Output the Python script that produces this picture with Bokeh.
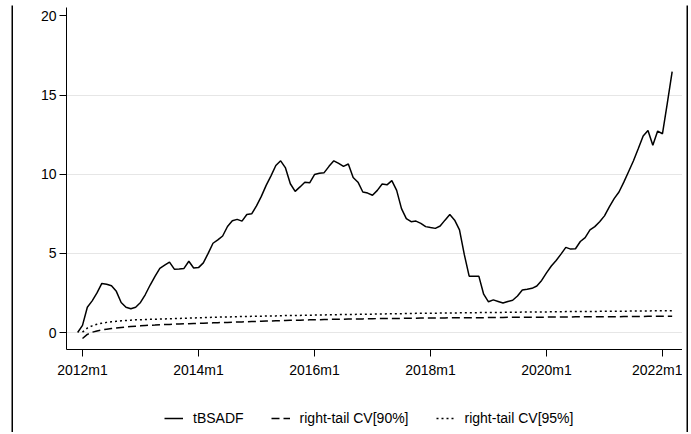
from bokeh.plotting import figure
from bokeh.layouts import row, column
from bokeh.models import (Range1d, FixedTicker, Legend, LegendItem, ColumnDataSource,
                          BoxAnnotation)
from bokeh.embed import file_html
from bokeh.resources import INLINE

# ---------------- data ----------------
# monthly periods 2011m12 .. 2022m3
periods = ["2011m12"] + [f"{y}m{m}" for y in range(2012, 2023) for m in range(1, 13)]
periods = periods[:periods.index("2022m3") + 1]

tbsadf = [
    0.00,                                                                   # 2011m12
    0.45, 1.60, 2.00, 2.50, 3.10, 3.05, 2.95, 2.60, 1.90, 1.60, 1.50, 1.60,  # 2012
    1.90, 2.40, 3.00, 3.55, 4.05, 4.25, 4.45, 4.00, 4.02, 4.05, 4.50, 4.08,  # 2013
    4.10, 4.40, 5.00, 5.64, 5.85, 6.10, 6.70, 7.06, 7.15, 7.04, 7.46, 7.50,  # 2014
    8.00, 8.60, 9.30, 9.90, 10.55, 10.85, 10.40, 9.40, 8.92, 9.20, 9.50, 9.46,  # 2015
    9.98, 10.06, 10.10, 10.50, 10.85, 10.69, 10.50, 10.65, 9.80, 9.50, 8.88, 8.81,  # 2016
    8.67, 8.98, 9.38, 9.33, 9.60, 8.98, 7.83, 7.20, 7.00, 7.04, 6.90, 6.69,  # 2017
    6.63, 6.58, 6.73, 7.10, 7.45, 7.10, 6.48, 4.92, 3.56, 3.56, 3.56, 2.42,  # 2018
    1.94, 2.06, 1.96, 1.86, 1.96, 2.04, 2.31, 2.69, 2.73, 2.79, 2.94, 3.29,  # 2019
    3.77, 4.20, 4.55, 4.95, 5.38, 5.27, 5.29, 5.75, 6.00, 6.48, 6.69, 7.00,  # 2020
    7.37, 7.94, 8.46, 8.88, 9.50, 10.17, 10.85, 11.63, 12.42, 12.77, 11.83, 12.73,  # 2021
    12.56, 14.50, 16.48,                                                    # 2022
]

nan = float("nan")
cv90 = [
    nan,
    -0.38, -0.12, 0.02, 0.10, 0.16, 0.21, 0.25, 0.29, 0.32, 0.35, 0.38, 0.40,
    0.42, 0.44, 0.46, 0.47, 0.49, 0.50, 0.51, 0.53, 0.54, 0.55, 0.56, 0.57,
    0.58, 0.59, 0.60, 0.61, 0.62, 0.63, 0.64, 0.65, 0.66, 0.67, 0.68, 0.69,
    0.70, 0.71, 0.72, 0.73, 0.74, 0.75, 0.76, 0.77, 0.78, 0.78, 0.79, 0.80,
    0.81, 0.81, 0.82, 0.83, 0.83, 0.84, 0.84, 0.85, 0.85, 0.86, 0.86, 0.87,
    0.87, 0.88, 0.88, 0.88, 0.89, 0.89, 0.89, 0.90, 0.90, 0.90, 0.91, 0.91,
    0.91, 0.92, 0.92, 0.92, 0.93, 0.93, 0.93, 0.93, 0.94, 0.94, 0.94, 0.94,
    0.95, 0.95, 0.95, 0.95, 0.96, 0.96, 0.96, 0.96, 0.97, 0.97, 0.97, 0.97,
    0.97, 0.98, 0.98, 0.98, 0.98, 0.98, 0.99, 0.99, 0.99, 0.99, 0.99, 1.00,
    1.00, 1.00, 1.00, 1.00, 1.01, 1.01, 1.01, 1.01, 1.01, 1.02, 1.02, 1.02,
    1.02, 1.02, 1.02,
]

cv95 = [
    nan,
    0.02, 0.28, 0.42, 0.52, 0.59, 0.64, 0.68, 0.71, 0.74, 0.76, 0.78, 0.80,
    0.81, 0.82, 0.83, 0.84, 0.85, 0.86, 0.87, 0.88, 0.89, 0.90, 0.91, 0.92,
    0.93, 0.94, 0.95, 0.96, 0.97, 0.98, 0.98, 0.99, 1.00, 1.01, 1.01, 1.02,
    1.03, 1.03, 1.04, 1.05, 1.05, 1.06, 1.07, 1.07, 1.08, 1.08, 1.09, 1.09,
    1.10, 1.10, 1.11, 1.12, 1.12, 1.13, 1.13, 1.14, 1.14, 1.15, 1.15, 1.16,
    1.16, 1.17, 1.17, 1.18, 1.18, 1.19, 1.19, 1.20, 1.20, 1.21, 1.21, 1.21,
    1.22, 1.22, 1.23, 1.23, 1.23, 1.24, 1.24, 1.25, 1.25, 1.25, 1.26, 1.26,
    1.26, 1.27, 1.27, 1.27, 1.28, 1.28, 1.28, 1.29, 1.29, 1.29, 1.30, 1.30,
    1.30, 1.31, 1.31, 1.31, 1.32, 1.32, 1.32, 1.33, 1.33, 1.33, 1.33, 1.34,
    1.34, 1.34, 1.35, 1.35, 1.35, 1.35, 1.36, 1.36, 1.36, 1.36, 1.37, 1.37,
    1.37, 1.37, 1.38,
]

x_tick_labels = ["2012m1", "2014m1", "2016m1", "2018m1", "2020m1", "2022m1"]
y_ticks = [0, 5, 10, 15, 20]
series_names = ["tBSADF", "right-tail CV[90%]", "right-tail CV[95%]"]


def month_index(label):
    y, m = label.split("m")
    return (int(y) - 2012) * 12 + int(m) - 1


x = [month_index(s) for s in periods]
src = ColumnDataSource(dict(x=x, bsadf=tbsadf, cv90=cv90, cv95=cv95))

FONT = "Liberation Sans"
FS = "14px"
STYLES = [dict(line_color="black", line_width=1.5),
          dict(line_color="black", line_width=1.5, line_dash="8 4"),
          dict(line_color="black", line_width=1.5, line_dash="2 3")]


def blank(w, h, color="white"):
    """An axis-less figure whose frame covers its whole canvas."""
    f = figure(width=w, height=h, output_backend="svg", toolbar_location=None,
               x_axis_type=None, y_axis_type=None,
               x_range=Range1d(0, 1), y_range=Range1d(0, 1),
               min_border=0, min_border_left=0, min_border_right=0,
               min_border_top=0, min_border_bottom=0, frame_align=False)
    f.outline_line_color = None
    f.background_fill_color = color
    f.border_fill_color = color
    return f


def band(fig, left, right, top, bottom):
    fig.add_layout(BoxAnnotation(left=left, right=right, top=top, bottom=bottom,
                                 left_units="canvas", right_units="canvas",
                                 top_units="canvas", bottom_units="canvas",
                                 fill_color="black", fill_alpha=1.0,
                                 line_color=None, level="overlay"))


# ---------------- main chart ----------------
fig = figure(width=669, height=375, output_backend="svg", toolbar_location=None,
             x_range=Range1d(-3.31, 124.14), y_range=Range1d(-1.074, 20.537),
             min_border_left=53, min_border_right=0, min_border_top=0,
             min_border_bottom=33, frame_align=False)
fig.outline_line_color = None
fig.background_fill_color = "white"
fig.border_fill_color = "white"

fig.line("x", "bsadf", source=src, **STYLES[0])
fig.line("x", "cv90", source=src, **STYLES[1])
fig.line("x", "cv95", source=src, **STYLES[2])

fig.xaxis.ticker = FixedTicker(ticks=[month_index(s) for s in x_tick_labels])
fig.xaxis.major_label_overrides = {month_index(s): s for s in x_tick_labels}
fig.yaxis.ticker = FixedTicker(ticks=y_ticks)
for ax in (fig.xaxis[0], fig.yaxis[0]):
    ax.axis_line_color = "black"
    ax.axis_line_width = 1
    ax.major_tick_line_color = "black"
    ax.major_tick_line_width = 1
    ax.major_tick_out = 7
    ax.major_tick_in = 0
    ax.minor_tick_line_color = None
    ax.major_label_text_font = FONT
    ax.major_label_text_font_size = FS
    ax.major_label_text_color = "black"
fig.xaxis.major_label_standoff = 5
fig.yaxis.major_label_standoff = 3

fig.xgrid.grid_line_color = None
fig.ygrid.ticker = FixedTicker(ticks=[0, 5, 10, 15])
fig.ygrid.grid_line_color = "#e6e6e6"
fig.ygrid.grid_line_width = 1

# ---------------- legend strip ----------------
leg_fig = blank(669, 48)
# key-only renderers: one point outside the visible range, so only the key shows
offscreen = ColumnDataSource(dict(x=[5.0], y=[5.0]))
keys = [leg_fig.line("x", "y", source=offscreen, **st) for st in STYLES]
legend = Legend(items=[LegendItem(label=n, renderers=[r], index=0)
                       for n, r in zip(series_names, keys)],
                orientation="horizontal", location=(151, 4),
                glyph_width=19, glyph_height=16, label_height=16,
                label_standoff=10, spacing=27, padding=0, margin=0,
                border_line_alpha=0, background_fill_alpha=0,
                label_text_font=FONT, label_text_font_size=FS,
                label_text_color="black")
leg_fig.add_layout(legend, "center")

# ---------------- outer box pieces ----------------
top_gap = blank(669, 5)
top_edge = blank(669, 2, color="black")
bottom_edge = blank(669, 2, color="black")
left_strip = blank(13, 432)
band(left_strip, 11, 13, 5, 432)
right_strip = blank(6, 432)
band(right_strip, 4, 6, 5, 432)

p = row(left_strip,
        column(top_gap, top_edge, fig, leg_fig, bottom_edge, spacing=0),
        right_strip, spacing=0)

open("out.html", "w").write(file_html(p, INLINE))
